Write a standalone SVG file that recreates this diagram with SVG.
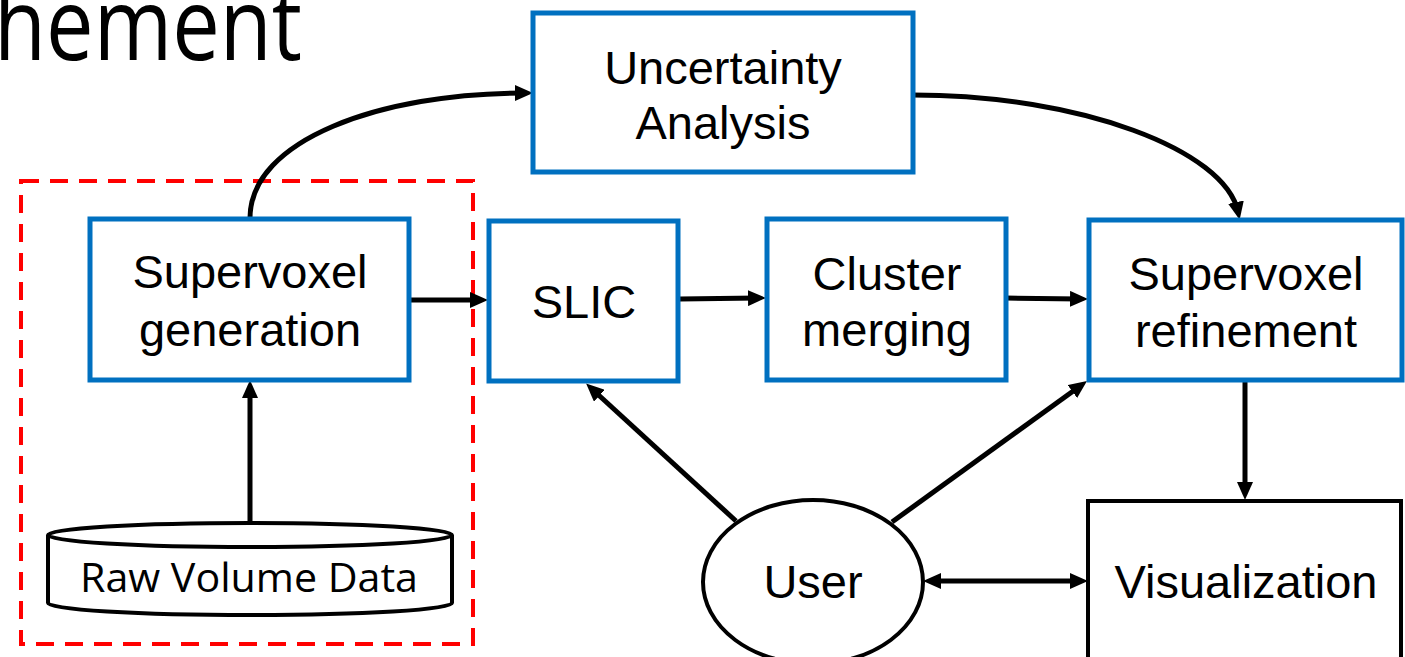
<svg xmlns="http://www.w3.org/2000/svg" width="1405" height="657" viewBox="0 0 1405 657">
<style>
.bx{fill:#fff;stroke:#0070C0;stroke-width:5}
.bk{fill:#fff;stroke:#000;stroke-width:4}
.lb{font-family:"Liberation Sans",Arial,sans-serif;font-size:47px;fill:#000;text-anchor:middle}
.cal{font-family:"Open Sans","Noto Sans",sans-serif;fill:#000}
.cn{fill:none;stroke:#000;stroke-width:5}
</style>
<defs>
<marker id="ah" viewBox="0 0 18 16" markerWidth="18" markerHeight="16" markerUnits="userSpaceOnUse" refX="10" refY="8" orient="auto-start-reverse">
<path d="M0,0 L18,8 L0,16 z" fill="#000"/>
</marker>
</defs>
<rect width="1405" height="657" fill="#fff"/>
<text class="cal" x="-6" y="60" font-size="100" textLength="308" lengthAdjust="spacingAndGlyphs">hement</text>
<rect id="group-box" x="21" y="181" width="452" height="463" fill="none" stroke="#FF0000" stroke-width="4" stroke-dasharray="18,11"/>
<g id="connectors">
<path class="cn" d="M250,523 L250,388" marker-end="url(#ah)"/>
<path class="cn" d="M410,300 L480,300" marker-end="url(#ah)"/>
<path class="cn" d="M680,299 L758,298" marker-end="url(#ah)"/>
<path class="cn" d="M1006,298 L1080,299" marker-end="url(#ah)"/>
<path class="cn" d="M1245,382 L1245,492" stroke-width="4" marker-end="url(#ah)"/>
<path class="cn" d="M736,521 L592,389" marker-end="url(#ah)"/>
<path class="cn" d="M892,522 L1080.5,385.7" marker-end="url(#ah)"/>
<path class="cn" d="M931,581 L1080,581" marker-start="url(#ah)" marker-end="url(#ah)"/>
<path class="cn" d="M250,218 C250,140 380,93 525,93" marker-end="url(#ah)"/>
<path class="cn" d="M913,95 C1080,95 1225,150 1238,212" marker-end="url(#ah)"/>
</g>
<g id="uncertainty">
<rect class="bx" x="533" y="13" width="380" height="159"/>
<text class="lb" x="723" y="84">Uncertainty</text>
<text class="lb" x="723" y="139">Analysis</text>
</g>
<g id="supervoxel-generation">
<rect class="bx" x="90" y="219" width="319" height="161"/>
<text class="lb" x="250" y="288">Supervoxel</text>
<text class="lb" x="250" y="346">generation</text>
</g>
<g id="slic">
<rect class="bx" x="489" y="221" width="189" height="160"/>
<text class="lb" x="584" y="318">SLIC</text>
</g>
<g id="cluster-merging">
<rect class="bx" x="767" y="219" width="239" height="161"/>
<text class="lb" x="887" y="290">Cluster</text>
<text class="lb" x="887" y="346">merging</text>
</g>
<g id="supervoxel-refinement">
<rect class="bx" x="1089" y="220" width="313" height="160"/>
<text class="lb" x="1246" y="290">Supervoxel</text>
<text class="lb" x="1246" y="347">refinement</text>
</g>
<g id="visualization">
<rect class="bk" x="1088" y="501" width="313" height="170"/>
<text class="lb" x="1246" y="598">Visualization</text>
</g>
<g id="user">
<ellipse class="bk" cx="813" cy="582" rx="110" ry="82"/>
<text class="lb" x="813" y="598">User</text>
</g>
<g id="raw-volume-data">
<path d="M48,535 L48,603 A202,12 0 0 0 452,603 L452,535" fill="#fff" stroke="#000" stroke-width="4"/>
<ellipse cx="250" cy="535" rx="202" ry="12" fill="#fff" stroke="#000" stroke-width="4"/>
<text class="cal" x="80" y="592" font-size="40" textLength="338" lengthAdjust="spacingAndGlyphs">Raw Volume Data</text>
</g>
</svg>
